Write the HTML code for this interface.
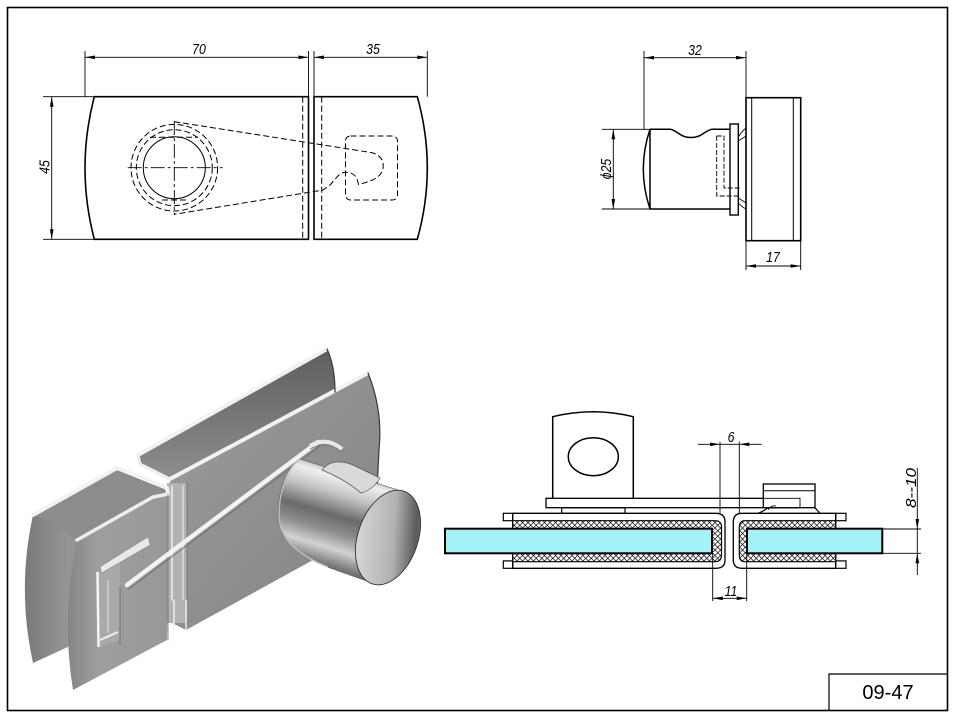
<!DOCTYPE html>
<html><head><meta charset="utf-8"><style>
html,body{margin:0;padding:0;background:#fff;}
svg{display:block;}
.t{font-family:"Liberation Sans",sans-serif;font-style:italic;font-size:15px;fill:#000;}
</style></head><body>
<svg width="957" height="719" viewBox="0 0 957 719" xmlns="http://www.w3.org/2000/svg">
<defs>
<pattern id="hx" width="5.5" height="5.5" patternUnits="userSpaceOnUse"><rect width="5.5" height="5.5" fill="#fff"/><path d="M0,0L5.5,5.5M5.5,0L0,5.5" stroke="#000" stroke-width="0.65"/></pattern>
<linearGradient id="gA" x1="0" y1="0" x2="0" y2="1"><stop offset="0" stop-color="#5e5e5e"/><stop offset="1" stop-color="#8e8e8e"/></linearGradient>
<linearGradient id="gB" x1="0" y1="0" x2="1" y2="1"><stop offset="0" stop-color="#9c9c9c"/><stop offset="1" stop-color="#828282"/></linearGradient>
<linearGradient id="gL1" x1="0" y1="0" x2="1" y2="0"><stop offset="0" stop-color="#7a7a7a"/><stop offset="0.3" stop-color="#959595"/><stop offset="1" stop-color="#8c8c8c"/></linearGradient>
<linearGradient id="gL2" x1="0" y1="0" x2="1" y2="0"><stop offset="0" stop-color="#858585"/><stop offset="0.3" stop-color="#9e9e9e"/><stop offset="1" stop-color="#989898"/></linearGradient>
<linearGradient id="gBody" gradientUnits="userSpaceOnUse" x1="353" y1="470" x2="322" y2="574">
<stop offset="0" stop-color="#a8a8a8"/><stop offset="0.1" stop-color="#efefef"/><stop offset="0.25" stop-color="#c4c4c4"/><stop offset="0.45" stop-color="#6a6a6a"/><stop offset="0.6" stop-color="#8e8e8e"/><stop offset="0.75" stop-color="#d2d2d2"/><stop offset="0.9" stop-color="#7a7a7a"/><stop offset="1" stop-color="#4e4e4e"/></linearGradient>
<linearGradient id="gCap" gradientUnits="userSpaceOnUse" x1="356" y1="540" x2="421" y2="522">
<stop offset="0" stop-color="#d6d6d6"/><stop offset="0.55" stop-color="#b2b2b2"/><stop offset="0.88" stop-color="#5a5a5a"/><stop offset="1" stop-color="#7a7a7a"/></linearGradient>
</defs>

<!-- frame -->
<rect x="7.5" y="7.5" width="940" height="703" fill="none" stroke="#000" stroke-width="1.6"/>
<path d="M829,710 L829,674 L947,674" fill="none" stroke="#000" stroke-width="1.2"/>
<text x="888" y="699" text-anchor="middle" style="font-family:'Liberation Sans',sans-serif;font-size:20px;fill:#000">09-47</text>

<!-- ============ TOP-LEFT VIEW ============ -->
<g fill="none" stroke="#000">
<path d="M94.3,96.7 L308.5,96.7 L308.5,239.3 L94.3,239.3 Q75.7,168 94.3,96.7 Z" stroke-width="1.6"/>
<path d="M314,96.7 L417.3,96.7 Q437.3,168 417.3,239.3 L314,239.3 Z" stroke-width="1.6"/>
<g stroke-width="1" stroke-dasharray="6,3">
<line x1="302.7" y1="96.7" x2="302.7" y2="239.3"/>
<line x1="321.7" y1="96.7" x2="321.7" y2="239.3"/>
<circle cx="174.3" cy="167.7" r="43.3"/>
<circle cx="174.3" cy="167.7" r="38"/>
<line x1="150" y1="137.3" x2="198" y2="137.3"/>
<line x1="162" y1="200" x2="187" y2="200"/>
<path d="M174.3,121.7 L371,152.5 C381,154.5 385,162 382.5,170 C380,178 372,181 358.5,184.5 L357,178.5 C354,173 348,171.5 343.5,172.5 C338,174 335,180 330,185 L323,190 L174.3,214.3"/>
<rect x="345.5" y="136" width="52" height="64" rx="5"/>
</g>
<circle cx="174.3" cy="167.7" r="31" stroke-width="1"/>
<g stroke-width="0.9" stroke-dasharray="14,3,3,3">
<line x1="127.7" y1="167.7" x2="222.7" y2="167.7"/>
<line x1="174.3" y1="121" x2="174.3" y2="215"/>
</g>
<g stroke-width="0.9">
<line x1="85" y1="51" x2="85" y2="96.7"/>
<line x1="308.5" y1="51" x2="308.5" y2="96.7"/>
<line x1="314" y1="51" x2="314" y2="96.7"/>
<line x1="427.3" y1="51" x2="427.3" y2="96.7"/>
<line x1="85" y1="57.3" x2="308.5" y2="57.3"/>
<line x1="314" y1="57.3" x2="427.3" y2="57.3"/>
<line x1="43" y1="96.7" x2="94.3" y2="96.7"/>
<line x1="43" y1="239.3" x2="94.3" y2="239.3"/>
<line x1="51.7" y1="96.7" x2="51.7" y2="239.3"/>
</g>
</g>
<g fill="#000">
<polygon points="85,57.3 95,55.5 95,59.1"/><polygon points="308.5,57.3 298.5,55.5 298.5,59.1"/>
<polygon points="314,57.3 324,55.5 324,59.1"/><polygon points="427.3,57.3 417.3,55.5 417.3,59.1"/>
<polygon points="51.7,96.7 49.9,106.7 53.5,106.7"/><polygon points="51.7,239.3 49.9,229.3 53.5,229.3"/>
</g>
<text class="t" transform="translate(199,54) scale(0.82,1)" text-anchor="middle">70</text>
<text class="t" transform="translate(373,54) scale(0.82,1)" text-anchor="middle">35</text>
<text class="t" transform="translate(49.5,167) rotate(-90) scale(0.82,1)" text-anchor="middle">45</text>

<!-- ============ TOP-RIGHT VIEW ============ -->
<g fill="none" stroke="#000">
<rect x="746" y="97.7" width="54.7" height="143" stroke-width="1.6"/>
<line x1="751.7" y1="97.7" x2="751.7" y2="240.7" stroke-width="1"/>
<line x1="793.3" y1="97.7" x2="793.3" y2="240.7" stroke-width="1"/>
<rect x="730" y="124" width="8.3" height="91" stroke-width="1.4"/>
<path d="M650,129.3 L670.7,129.3 C678,131 680,137.5 691,137.5 C702,137.5 704,131 711.7,129.3 L730,129.3 M730,209 L650,209 Q636.6,169 650,129.3 L650,209" stroke-width="1.5"/>
<path d="M738.3,137 Q742,131 746,128 M738.3,203 Q742,207 746,209 M738.3,141 L746,136 M738.3,198 L746,203" stroke-width="0.9"/>
<path d="M716.7,136 L724,136 L724,188 L740,188 M716.7,136 L716.7,196 L740,196" stroke-width="0.9" stroke-dasharray="5,2"/>
<g stroke-width="0.9">
<line x1="644" y1="51" x2="644" y2="129.3"/>
<line x1="746" y1="51" x2="746" y2="97.7"/>
<line x1="644" y1="57.7" x2="746" y2="57.7"/>
<line x1="601.7" y1="129.3" x2="650" y2="129.3"/>
<line x1="601.7" y1="209" x2="650" y2="209"/>
<line x1="613.3" y1="129.3" x2="613.3" y2="209"/>
<line x1="746" y1="240.7" x2="746" y2="270"/>
<line x1="800.7" y1="240.7" x2="800.7" y2="270"/>
<line x1="746" y1="266" x2="800.7" y2="266"/>
</g>
</g>
<g fill="#000">
<polygon points="644,57.7 654,55.9 654,59.5"/><polygon points="746,57.7 736,55.9 736,59.5"/>
<polygon points="613.3,129.3 611.5,139.3 615.1,139.3"/><polygon points="613.3,209 611.5,199 615.1,199"/>
<polygon points="746,266 756,264.2 756,267.8"/><polygon points="800.7,266 790.7,264.2 790.7,267.8"/>
</g>
<text class="t" transform="translate(695,55) scale(0.82,1)" text-anchor="middle">32</text>
<text class="t" transform="translate(611,169) rotate(-90) scale(0.82,1)" text-anchor="middle">ϕ25</text>
<text class="t" transform="translate(773,262) scale(0.82,1)" text-anchor="middle">17</text>

<!-- ============ SECTION VIEW ============ -->
<g stroke="#000" fill="none">
<path d="M552.7,498.3 L552.7,416.7 Q593,406.7 633.3,416.7 L633.3,498.3" stroke-width="1.5"/>
<ellipse cx="593.3" cy="456.7" rx="25" ry="19" stroke-width="1.5"/>
<rect x="546" y="498.3" width="254" height="9.4" stroke-width="1.3" fill="#fff"/>
<rect x="561.7" y="507.7" width="63.3" height="5.6" stroke-width="1.2"/>
<rect x="763.3" y="484" width="51.7" height="23.7" stroke-width="1.3" fill="#fff"/>
<line x1="763.3" y1="490.7" x2="815" y2="490.7" stroke-width="1"/>
<path d="M763.3,498.3 L800,498.3 L800,507.7" stroke-width="0.9"/>
<path d="M758,513.3 Q764,511 768,507.7 M815,507.7 L820,513.3" stroke-width="1.2"/>
<path d="M768,510 Q771,505 776,506" stroke-width="0.8"/>
<!-- left U -->
<path d="M512.7,513.3 L716,513.3 Q725,513.3 725,522 L725,560 Q725,568.3 716,568.3 L512.7,568.3 Z" stroke-width="1.3"/>
<rect x="503.3" y="513.3" width="9.4" height="7.4" stroke-width="1.2"/>
<rect x="503.3" y="560.9" width="9.4" height="7.4" stroke-width="1.2"/>
<path d="M512.7,520.7 L715,520.7 Q721.5,520.7 721.5,527 L721.5,555 Q721.5,561.7 715,561.7 L512.7,561.7 Z" fill="url(#hx)" stroke-width="1.2"/>
<rect x="445" y="528.7" width="267" height="24.6" fill="#a2f2f8" stroke-width="2"/>
<!-- right U -->
<path d="M835.7,513.3 L742,513.3 Q733.3,513.3 733.3,522 L733.3,560 Q733.3,568.3 742,568.3 L835.7,568.3 Z" stroke-width="1.3"/>
<rect x="835.7" y="513.3" width="10.3" height="7.4" stroke-width="1.2"/>
<rect x="835.7" y="560.9" width="10.3" height="7.4" stroke-width="1.2"/>
<path d="M835.7,520.7 L745,520.7 Q739.3,520.7 739.3,527 L739.3,555 Q739.3,561.7 745,561.7 L835.7,561.7 Z" fill="url(#hx)" stroke-width="1.2"/>
<rect x="747" y="528.7" width="135.3" height="24.6" fill="#a2f2f8" stroke-width="2"/>
<!-- dims -->
<g stroke-width="0.9">
<line x1="720" y1="441.7" x2="720" y2="513.3"/>
<line x1="739.3" y1="441.7" x2="739.3" y2="513.3"/>
<line x1="698" y1="444.3" x2="761.7" y2="444.3"/>
<line x1="712.7" y1="553" x2="712.7" y2="601"/>
<line x1="746.7" y1="555" x2="746.7" y2="601"/>
<line x1="712.7" y1="598.3" x2="746.7" y2="598.3"/>
<line x1="917.3" y1="468" x2="917.3" y2="575"/>
<line x1="882.3" y1="529" x2="921" y2="529"/>
<line x1="882.3" y1="553.3" x2="921" y2="553.3"/>
</g>
</g>
<g fill="#000">
<polygon points="720,444.3 710,442.5 710,446.1"/><polygon points="739.3,444.3 749.3,442.5 749.3,446.1"/>
<polygon points="712.7,598.3 722.7,596.5 722.7,600.1"/><polygon points="746.7,598.3 736.7,596.5 736.7,600.1"/>
<polygon points="917.3,529 915.5,519 919.1,519"/><polygon points="917.3,553.3 915.5,563.3 919.1,563.3"/>
</g>
<text class="t" transform="translate(731,442) scale(0.82,1)" text-anchor="middle">6</text>
<text class="t" transform="translate(731,596) scale(0.82,1)" text-anchor="middle">11</text>
<text class="t" transform="translate(916,488) rotate(-90)" text-anchor="middle" textLength="40" lengthAdjust="spacingAndGlyphs">8--10</text>

<!-- ============ 3D RENDER ============ -->
<path d="M33,515 L117,468 L167,488 L168,600 L120,645 L70,646 L33,663 Q16.7,589 33,515 Z" fill="url(#gL1)"/>
<path d="M138,455 L327,349 Q335,366 335,392 L172,480 L140,463 Z" fill="url(#gA)"/>
<path d="M170,479 L368,373 Q383,410 379,450 L376,500 L340,545 L313,560 L186,630 L170,622 Z" fill="url(#gB)"/>
<rect x="167" y="483" width="20" height="140" fill="#b2b2b2"/>
<path d="M77,540 L153,497 L168,494 L168,600 L167,640 L73,690 Q61,615 77,540 Z" fill="url(#gL2)"/>
<polygon points="36,515 117,470 160,489 153,497 77,540" fill="#8c8c8c"/>
<!-- strips -->
<g fill="none" stroke-linecap="round">
<path d="M33,515 L117,468 L167,488 L168,494" stroke="#f2f2f2" stroke-width="4"/>
<path d="M77,540 L153,497 L168,494" stroke="#ededed" stroke-width="3.5"/>
<path d="M138,455 L327,349" stroke="#f2f2f2" stroke-width="4"/>
<path d="M138,455 L140,464 L170,479" stroke="#ececec" stroke-width="3"/>
<path d="M170,479 L368,373" stroke="#f2f2f2" stroke-width="4"/>
<path d="M327,349 Q335,366 335,392" stroke="#3a3a3a" stroke-width="1.2"/>
<path d="M368,373 Q383,410 379,450 L377,490" stroke="#3a3a3a" stroke-width="1.2"/>
<line x1="172" y1="486" x2="172" y2="600" stroke="#f0f0f0" stroke-width="1.5"/>
<line x1="183" y1="486" x2="183" y2="600" stroke="#e6e6e6" stroke-width="1.2"/>
<line x1="187" y1="482" x2="187" y2="600" stroke="#6a6a6a" stroke-width="0.8"/>
<line x1="174" y1="600" x2="174" y2="630" stroke="#f0f0f0" stroke-width="1.5"/>
<line x1="186" y1="600" x2="186" y2="630" stroke="#eaeaea" stroke-width="1.5"/>
<line x1="168" y1="494" x2="168" y2="640" stroke="#6e6e6e" stroke-width="0.8"/>
</g>
<!-- slot -->
<polygon points="97,572 120,558 120,640 99,647" fill="#a9a9a9"/>
<line x1="97.5" y1="572" x2="98.5" y2="647" stroke="#f4f4f4" stroke-width="2.5"/>
<line x1="108" y1="580" x2="108" y2="633" stroke="#e0e0e0" stroke-width="1"/>
<polygon points="100,566.7 148.3,536.7 150,545 101.7,573" fill="#e9e9e9" stroke="#888" stroke-width="0.6"/>
<path d="M100,640 L118,632" stroke="#f0f0f0" stroke-width="2"/>
<line x1="120" y1="587" x2="120" y2="645" stroke="#6a6a6a" stroke-width="0.8"/>
<!-- arm -->
<line x1="127" y1="585" x2="318" y2="442" stroke="#f3f3f3" stroke-width="4.5" stroke-linecap="round"/>
<line x1="128" y1="589.5" x2="320" y2="446" stroke="#6a6a6a" stroke-width="0.8"/>
<!-- washer rim (only top visible) -->
<path d="M310,446 Q326,436 342,449" fill="none" stroke="#e8e8e8" stroke-width="4"/>
<path d="M310,449 Q326,440 342,452" fill="none" stroke="#777" stroke-width="0.8"/>
<!-- cylinder body -->
<path d="M300,459 L398,490 L378,585 L330,568 C300,556 279,540 278,515 C278,490 287,466 300,459 Z" fill="url(#gBody)" stroke="#555" stroke-width="0.6"/>
<path d="M300,459 C288,467 279,490 279,515 C279,540 300,556 328,567" fill="none" stroke="#bdbdbd" stroke-width="1.5"/>
<path d="M322,470 Q332,457 353,465 L380,478 Q373,490 361,493 Q346,480 322,470 Z" fill="#d9d9d9" stroke="#555" stroke-width="0.7"/>
<ellipse cx="388" cy="537.5" rx="30" ry="49" transform="rotate(19 388 537.5)" fill="url(#gCap)" stroke="#333" stroke-width="0.9"/>
</svg>
</body></html>
